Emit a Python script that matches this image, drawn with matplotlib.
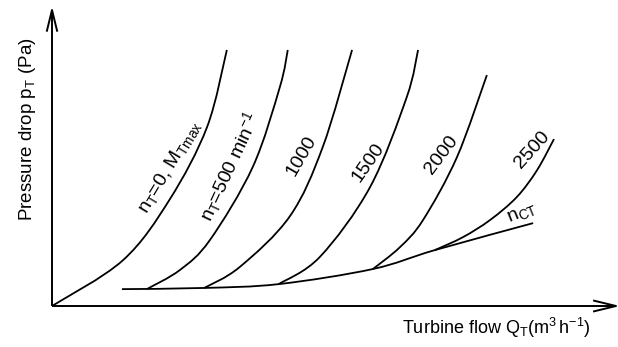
import matplotlib
matplotlib.use("Agg")
import matplotlib.pyplot as plt
from matplotlib.path import Path
from matplotlib.patches import PathPatch

plt.rcParams.update({
    "font.family": ["Liberation Sans", "DejaVu Sans"],
    "mathtext.fontset": "custom",
    "mathtext.rm": "Liberation Sans",
    "mathtext.it": "Liberation Sans",
})

# characteristic curves, turbine flow Q (0-100) vs pressure drop p (0-100)
q_n0 = [0.0, 12.6, 20.9, 27.5, 31.0]
p_n0 = [0.0, 15.5, 36.1, 60.5, 86.5]

q_n500 = [16.8, 22.7, 28.0, 35.6, 40.4, 41.8]
p_n500 = [5.7, 12.2, 22.3, 47.0, 74.0, 86.5]

q_n1000 = [27.0, 33.3, 42.2, 48.0, 53.2]
p_n1000 = [6.1, 13.2, 30.4, 53.7, 86.5]

q_n1500 = [40.2, 47.5, 56.4, 62.9, 64.9]
p_n1500 = [7.4, 16.6, 40.2, 70.6, 86.5]

q_n2000 = [56.9, 61.7, 65.8, 71.8, 77.1]
p_n2000 = [12.5, 19.9, 29.1, 50.3, 78.0]

q_n2500 = [67.9, 72.9, 77.7, 82.4, 86.0, 89.0]
p_n2500 = [18.9, 23.3, 29.1, 36.8, 45.9, 56.4]

# n_CT limit line joining the curve feet
q_nct = [12.4, 27.0, 40.2, 56.9, 67.9, 85.3]
p_nct = [5.7, 6.1, 7.4, 12.5, 18.9, 28.0]

curve_labels = [r"$\mathregular{n_T}$=0, $\mathregular{M_{Tmax}}$",
                r"$\mathregular{n_T}$=500 min$\mathregular{^{-1}}$",
                "1000", "1500", "2000", "2500",
                r"$\mathregular{n_{CT}}$"]
label_q = [20.9, 31.4, 44.3, 56.0, 69.1, 85.1, 83.3]
label_p = [47.0, 47.3, 50.7, 48.6, 51.0, 52.7, 31.4]
label_rot = [59, 65, 60, 55, 53, 48, 22]


def smooth_path(xs, ys):
    # Catmull-Rom spline through the points, as cubic Bezier segments
    pts = list(zip(xs, ys))
    verts = [pts[0]]
    codes = [Path.MOVETO]
    n = len(pts)
    for i in range(n - 1):
        p0 = pts[i - 1] if i > 0 else pts[i]
        p1 = pts[i]
        p2 = pts[i + 1]
        p3 = pts[i + 2] if i + 2 < n else pts[i + 1]
        c1 = (p1[0] + (p2[0] - p0[0]) / 6, p1[1] + (p2[1] - p0[1]) / 6)
        c2 = (p2[0] - (p3[0] - p1[0]) / 6, p2[1] - (p3[1] - p1[1]) / 6)
        verts += [c1, c2, p2]
        codes += [Path.CURVE4] * 3
    return Path(verts, codes)


fig = plt.figure(figsize=(6.18, 3.47), dpi=100)
ax = fig.add_axes([0, 0, 1, 1])
ax.set_xlim(-9.22, 100.35)
ax.set_ylim(-13.85, 103.38)
ax.axis("off")

# axes with open arrow heads
lw_axis = 1.4
ax.plot([0, 100], [0, 0], color="black", lw=lw_axis, solid_capstyle="butt")
ax.plot([0, 0], [0, 100], color="black", lw=lw_axis, solid_capstyle="butt")
ax.plot([96.1, 100, 96.1], [1.8, 0, -1.8], color="black", lw=lw_axis)
ax.plot([-0.9, 0, 0.9], [93.0, 100, 93.0], color="black", lw=lw_axis)

for qs, ps in [(q_n0, p_n0), (q_n500, p_n500), (q_n1000, p_n1000),
               (q_n1500, p_n1500), (q_n2000, p_n2000), (q_n2500, p_n2500),
               (q_nct, p_nct)]:
    ax.add_patch(PathPatch(smooth_path(qs, ps), fill=False,
                           edgecolor="black", lw=1.3))

for txt, x, y, r in zip(curve_labels, label_q, label_p, label_rot):
    ax.text(x, y, txt, rotation=r, rotation_mode="anchor",
            ha="center", va="center", fontsize=14)

ax.text(-4.4, 59.8, r"Pressure drop $\mathregular{p_T}$ (Pa)", rotation=90,
        rotation_mode="anchor", ha="center", va="center", fontsize=13.5)
ax.text(78.7, -7.4, r"Turbine flow $\mathregular{Q_T (m^3\,h^{-1})}$",
        ha="center", va="center", fontsize=13)

fig.savefig("out.png", dpi=100)
